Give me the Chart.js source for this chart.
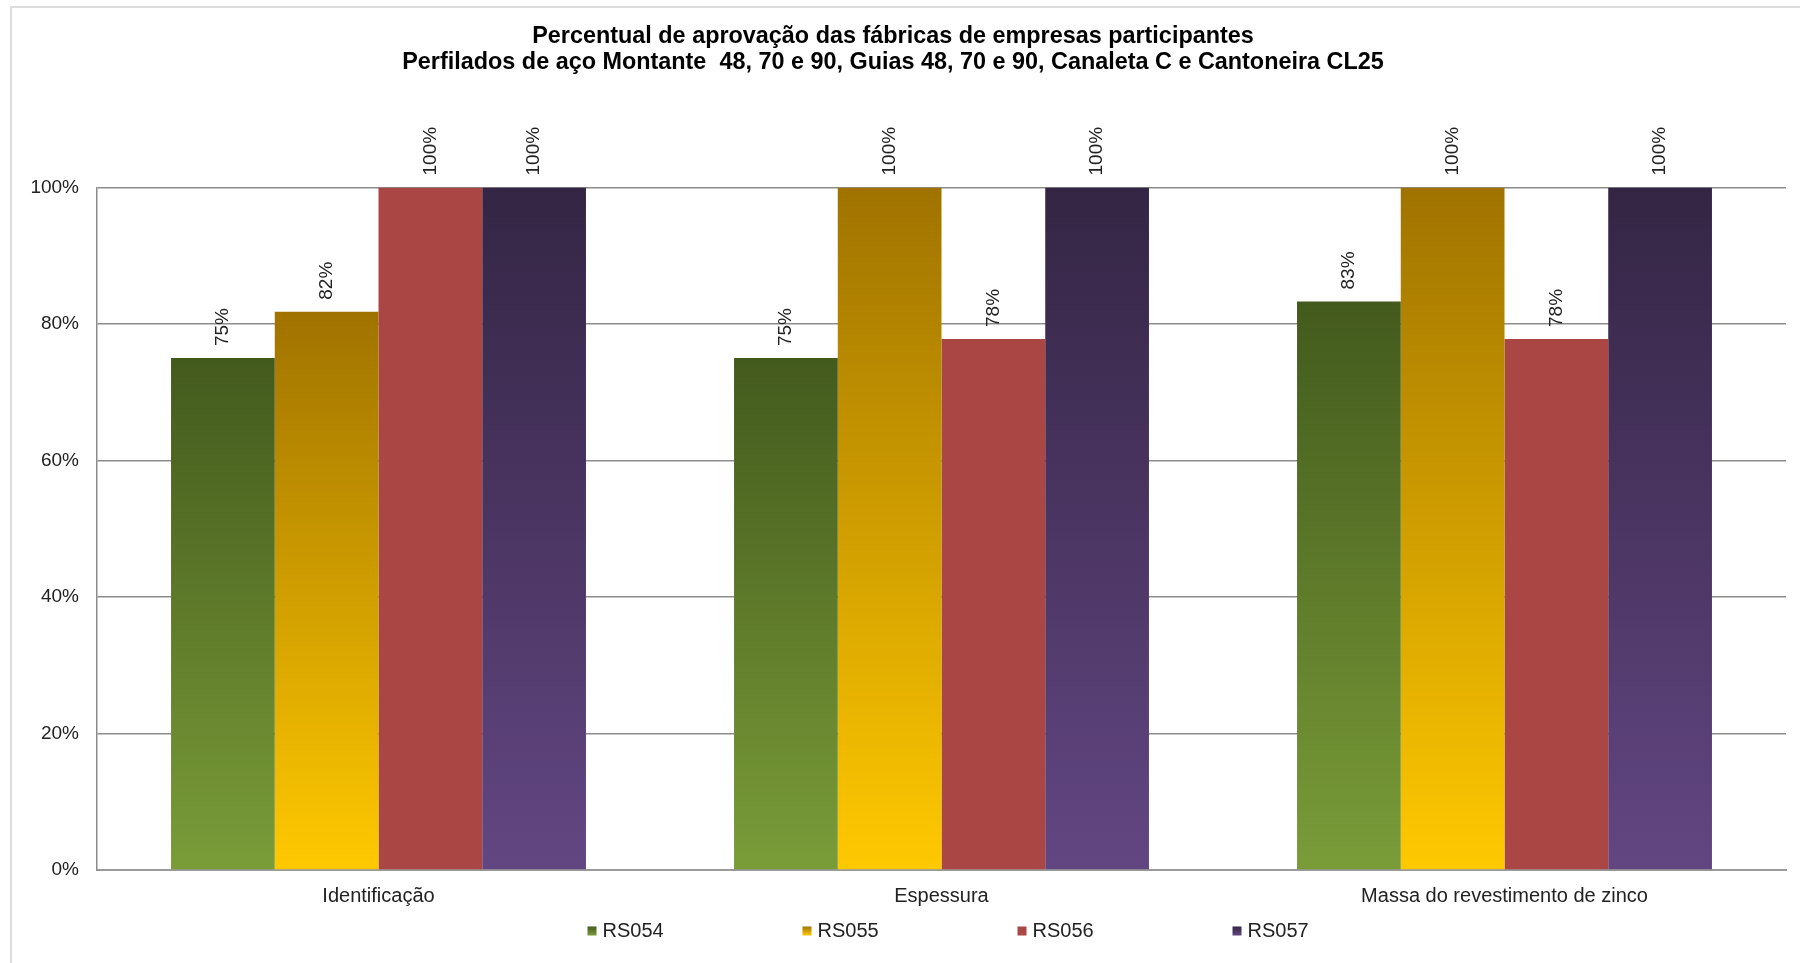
<!DOCTYPE html>
<html>
<head>
<meta charset="utf-8">
<script src="https://cdn.jsdelivr.net/npm/chart.js@4/dist/chart.umd.min.js"></script>
<style>
  html, body { margin: 0; padding: 0; background: #fff; overflow: hidden; }
  #frame { position: absolute; left: 10px; top: 6px; width: 1800px; height: 1000px;
           border-left: 2px solid #dcdcdc; border-top: 2px solid #dcdcdc; }
  #wrap { position: absolute; left: 0; top: 0; width: 1800px; height: 963px; }
</style>
</head>
<body>
<div id="frame"></div>
<div id="wrap"><canvas id="chart" width="1800" height="963"></canvas></div>
<script>
const categories = ['Identificação', 'Espessura', 'Massa do revestimento de zinco'];
const seriesNames = ['RS054', 'RS055', 'RS056', 'RS057'];
const rs054 = [75, 75, 83.3];
const rs055 = [81.8, 100, 100];
const rs056 = [100, 77.8, 77.8];
const rs057 = [100, 100, 100];
const yTicks = [0, 20, 40, 60, 80, 100];

const topColors = ['#435a1d', '#a07300', '#aa4644', '#342544'];
const bottomColors = ['#7a9c38', '#ffc900', '#aa4644', '#624682'];

Chart.defaults.font.family = '"Liberation Sans", Arial, sans-serif';
Chart.defaults.color = '#222';

function barFill(i) {
  return (c) => {
    const chart = c.chart;
    if (!chart.chartArea || c.type !== 'data') return bottomColors[i];
    const y = chart.scales.y;
    const top = y.getPixelForValue(c.raw);
    const bot = y.getPixelForValue(0);
    const g = chart.ctx.createLinearGradient(0, top, 0, bot);
    g.addColorStop(0, topColors[i]);
    g.addColorStop(1, bottomColors[i]);
    return g;
  };
}

const valueLabels = {
  id: 'valueLabels',
  afterDatasetsDraw(chart) {
    const ctx = chart.ctx;
    ctx.save();
    ctx.font = '19px "Liberation Sans", Arial, sans-serif';
    ctx.fillStyle = '#222';
    ctx.textAlign = 'left';
    ctx.textBaseline = 'middle';
    chart.data.datasets.forEach((ds, i) => {
      chart.getDatasetMeta(i).data.forEach((bar, j) => {
        ctx.save();
        ctx.translate(bar.x, bar.y - 12);
        ctx.rotate(-Math.PI / 2);
        ctx.fillText(Math.round(ds.data[j]) + '%', 0, 0);
        ctx.restore();
      });
    });
    ctx.restore();
  }
};

const bottomLegend = {
  id: 'bottomLegend',
  afterDraw(chart) {
    const ctx = chart.ctx;
    const area = chart.chartArea;
    const y = 931;
    let x = (area.left + area.right) / 2 - 354;
    ctx.save();
    ctx.font = '20px "Liberation Sans", Arial, sans-serif';
    ctx.textBaseline = 'middle';
    ctx.textAlign = 'left';
    chart.data.datasets.forEach((ds, i) => {
      const g = ctx.createLinearGradient(0, y - 4.5, 0, y + 4.5);
      g.addColorStop(0, topColors[i]);
      g.addColorStop(1, bottomColors[i]);
      ctx.fillStyle = g;
      ctx.fillRect(x, y - 4.5, 9, 9);
      ctx.fillStyle = '#222';
      ctx.fillText(ds.label, x + 15, y);
      x += 215;
    });
    ctx.restore();
  }
};

const seriesData = [rs054, rs055, rs056, rs057];

new Chart(document.getElementById('chart').getContext('2d'), {
  type: 'bar',
  data: {
    labels: categories,
    datasets: seriesData.map((d, i) => ({
      label: seriesNames[i],
      data: d,
      backgroundColor: barFill(i),
      borderWidth: 0,
      categoryPercentage: 0.737,
      barPercentage: 1.0,
    })),
  },
  options: {
    responsive: false,
    animation: false,
    devicePixelRatio: 1,
    layout: {
      padding: { left: 0, right: 14, top: 0, bottom: 41 },
    },
    scales: {
      x: {
        grid: { display: false, drawTicks: false },
        border: { color: '#9a9a9a', width: 2 },
        ticks: { padding: 14, font: { size: 20 }, color: '#222' },
      },
      y: {
        min: 0,
        max: 100,
        afterFit: (scale) => { scale.width = 97; },
        afterBuildTicks: (scale) => { scale.ticks = yTicks.map((v) => ({ value: v })); },
        grid: { color: '#8c8c8c', lineWidth: 1.5, drawTicks: false },
        border: { color: '#8c8c8c', width: 1.5 },
        ticks: {
          padding: 18,
          font: { size: 19 },
          color: '#222',
          callback: (v) => v + '%',
        },
      },
    },
    plugins: {
      legend: { display: false },
      tooltip: { enabled: false },
      title: {
        display: true,
        text: [
          'Percentual de aprovação das fábricas de empresas participantes',
          'Perfilados de aço Montante  48, 70 e 90, Guias 48, 70 e 90, Canaleta C e Cantoneira CL25',
        ],
        color: '#000',
        font: { size: 23.4, weight: 'bold', lineHeight: 1.1 },
        padding: { top: 24, bottom: 112 },
      },
    },
  },
  plugins: [valueLabels, bottomLegend],
});
</script>
</body>
</html>
